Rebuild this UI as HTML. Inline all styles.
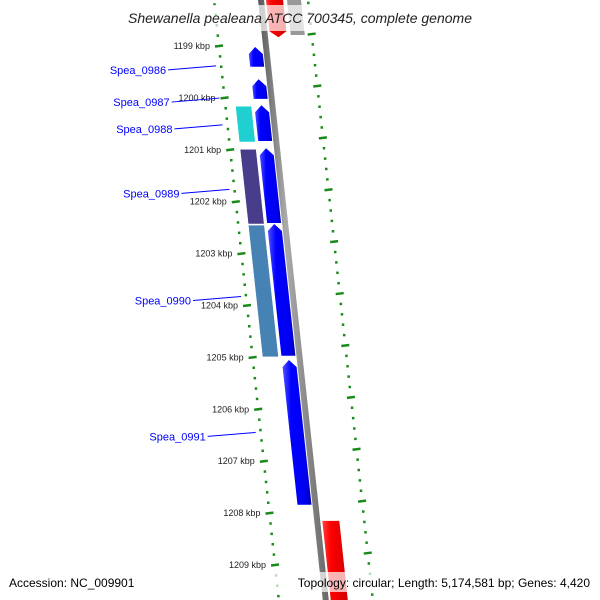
<!DOCTYPE html>
<html><head><meta charset="utf-8"><style>
body{margin:0;background:#fff}
svg{display:block;font-family:"Liberation Sans",sans-serif}
</style></head><body>
<svg id="c" width="600" height="600" viewBox="0 0 600 600" xmlns="http://www.w3.org/2000/svg">
<defs>
<linearGradient id="gb" x1="0" x2="1"><stop offset="0" stop-color="#5050ff"/><stop offset="0.3" stop-color="#0000ff"/><stop offset="0.8" stop-color="#0000ee"/><stop offset="1" stop-color="#0000aa"/></linearGradient>
<linearGradient id="gr" x1="0" x2="1"><stop offset="0" stop-color="#ff4040"/><stop offset="0.3" stop-color="#ff0000"/><stop offset="1" stop-color="#cc0000"/></linearGradient>
<linearGradient id="gk" x1="0" x2="1"><stop offset="0" stop-color="#555"/><stop offset="0.4" stop-color="#aaa"/><stop offset="1" stop-color="#666"/></linearGradient>
</defs>
<g id="ruler"></g>
<g id="genes"></g>
<g id="labels"></g>
<rect x="0" y="5" width="600" height="26" fill="#fff" fill-opacity="0.7"/>
<text x="300" y="23" text-anchor="middle" font-size="14" font-style="italic" fill="#222">Shewanella pealeana ATCC 700345, complete genome</text>
<rect x="0" y="572" width="600" height="20" fill="#fff" fill-opacity="0.7"/>
<text x="9" y="587" font-size="12" fill="#000">Accession: NC_009901</text>
<text x="590" y="587" font-size="12" text-anchor="end" fill="#000">Topology: circular; Length: 5,174,581 bp; Genes: 4,420</text>
</svg>
<script>
const tickKbp=[1199,1200,1201,1202,1203,1204,1205,1206,1207,1208,1209];
const fwdNames=["Spea_0986","Spea_0987","Spea_0988","Spea_0989","Spea_0990","Spea_0991"];
const fwdStart=[1199.02,1199.64,1200.14,1200.97,1202.43,1205.05];
const fwdEnd=[1199.40,1200.02,1200.83,1202.41,1204.97,1207.84];
const cogStart=[1200.16,1200.99,1202.45];
const cogEnd=[1200.85,1202.43,1204.99];
const cogColors=["#20d0d0","#483d8b","#4682b4"];
const revStart=[1198.0,1208.15];
const revEnd=[1198.83,1210.0];
const NS="http://www.w3.org/2000/svg";
function Y(k){return 46+(k-1199)*51.9;}
function X(y,u){return 261+0.108*y+u;}
function mk(tag,attrs,parent){const e=document.createElementNS(NS,tag);for(const a in attrs)e.setAttribute(a,attrs[a]);document.getElementById(parent).appendChild(e);return e;}
function pts(a){return a.map(p=>p[0].toFixed(1)+","+p[1].toFixed(1)).join(" ");}
// backbone
let bb=mk("polygon",{points:pts([[X(-5,-3),-5],[X(-5,3),-5],[X(605,3),605],[X(605,-3),605]]),fill:"url(#gk)"},"genes");


// rulers
for(let k=1198;k<=1210.001;k+=0.2){
  const kk=Math.round(k*10)/10;
  const y=Y(kk);
  const maj=Math.abs(kk-Math.round(kk))<0.01;
  const x=X(y,-47);
  const w=maj?8:2.5;
  let t=mk("line",{x1:x-w/2,y1:y+(maj?0.5:0),x2:x+w/2,y2:y-(maj?0.5:0),stroke:"#1a8a1a","stroke-width":2.5},"ruler");
  
  
  const k2=kk-0.23;const y2=Y(k2);const x2=X(y2,47);
  let t2=mk("line",{x1:x2-w/2,y1:y2+(maj?0.5:0),x2:x2+w/2,y2:y2-(maj?0.5:0),stroke:"#1a8a1a","stroke-width":2.5},"ruler");
  
  
}
tickKbp.forEach(k=>{
  const y=Y(k);
  let t=mk("text",{x:X(y,-47)-9,y:y+3,"font-size":9,"text-anchor":"end",fill:"#222"},"labels");
  t.textContent=k+" kbp";
  
  
});
// COG bars
cogStart.forEach((s,i)=>{
  const y1=Y(s),y2=Y(cogEnd[i]);
  let r=mk("polygon",{points:pts([[X(y1,-37),y1],[X(y1,-21),y1],[X(y2,-21),y2],[X(y2,-37),y2]]),fill:cogColors[i],stroke:"#fff","stroke-width":0.5},"genes");
  
  
});
// forward genes (arrow up)
fwdStart.forEach((s,i)=>{
  const y1=Y(s),y2=Y(fwdEnd[i]);const h=Math.min(7,(y2-y1)/2);
  const p=[[X(y1,-11),y1],[X(y1+h,-4),y1+h],[X(y2,-4),y2],[X(y2,-18),y2],[X(y1+h,-18),y1+h]];
  let g=mk("polygon",{points:pts(p),fill:"url(#gb)"},"genes");
  
  
  const ly=y1+(y2-y1)*(i==5?0.5:0.55)+ (i<2?8:0);
  const lx=X(ly,-52);
  let ln=mk("line",{x1:lx-48,y1:ly+4,x2:lx,y2:ly,stroke:"#0000ff","stroke-width":1},"labels");
  
  
  let t=mk("text",{x:lx-50,y:ly+8,"font-size":11,"text-anchor":"end",fill:"#0000ff"},"labels");
  t.textContent=fwdNames[i];
  
  
});
// reverse genes
revStart.forEach((s,i)=>{
  const y1=Y(s),y2=Y(revEnd[i]);
  const p=i==0?[[X(y1,5),y1],[X(y1,22),y1],[X(y2-6,22),y2-6],[X(y2,13.5),y2],[X(y2-6,5),y2-6]]:[[X(y1,5),y1],[X(y1,22),y1],[X(y2,22),y2],[X(y2,5),y2]];
  let g=mk("polygon",{points:pts(p),fill:"url(#gr)"},"genes");
  
  
});
let gx=mk("polygon",{points:pts([[X(0,26),0],[X(0,40),0],[X(35,40),35],[X(35,26),35]]),fill:"#999"},"genes");


</script>
</body></html>
